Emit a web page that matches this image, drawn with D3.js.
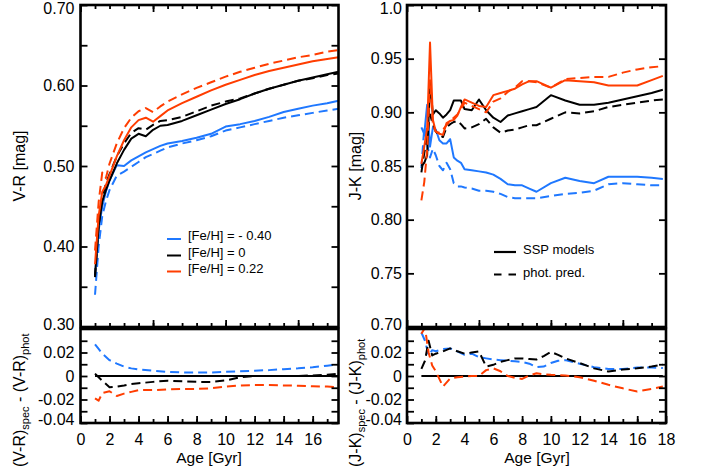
<!DOCTYPE html>
<html><head><meta charset="utf-8">
<script src="https://cdn.jsdelivr.net/npm/d3@7"></script>
<style>
body{margin:0;background:#fff}
svg{display:block}
text{font-family:"Liberation Sans",Arial,Helvetica,sans-serif;fill:#000}
</style>
</head><body>
<svg id="c" width="702" height="468"></svg>
<script>
// ---------------- DATA ----------------
const AGES_VR = [1, 1.25, 1.5, 1.75, 2, 2.5, 3, 3.5, 4, 4.5, 5, 5.5, 6, 7, 8, 9, 10, 11, 12, 13, 14, 15, 16, 17, 17.78];
const VR_BLUE_SSP   = [0.362, 0.420, 0.450, 0.468, 0.482, 0.501, 0.500, 0.507, 0.512, 0.517, 0.521, 0.525, 0.528, 0.531, 0.535, 0.540, 0.549, 0.552, 0.556, 0.561, 0.567, 0.571, 0.575, 0.578, 0.581];
const VR_BLUE_PHOT  = [0.340, 0.400, 0.438, 0.456, 0.470, 0.488, 0.493, 0.499, 0.505, 0.511, 0.515, 0.519, 0.523, 0.528, 0.532, 0.537, 0.544, 0.548, 0.552, 0.556, 0.560, 0.563, 0.566, 0.569, 0.571];
const VR_BLACK_SSP  = [0.364, 0.425, 0.456, 0.470, 0.482, 0.503, 0.520, 0.534, 0.540, 0.537, 0.545, 0.550, 0.551, 0.556, 0.563, 0.570, 0.577, 0.583, 0.590, 0.596, 0.601, 0.606, 0.610, 0.614, 0.617];
const VR_BLACK_PHOT = [0.362, 0.427, 0.461, 0.478, 0.490, 0.512, 0.528, 0.541, 0.547, 0.545, 0.551, 0.556, 0.557, 0.561, 0.568, 0.575, 0.580, 0.584, 0.590, 0.596, 0.601, 0.606, 0.609, 0.613, 0.615];
const VR_RED_SSP    = [0.378, 0.438, 0.468, 0.476, 0.488, 0.512, 0.532, 0.548, 0.557, 0.560, 0.555, 0.562, 0.569, 0.578, 0.586, 0.594, 0.601, 0.607, 0.613, 0.618, 0.622, 0.626, 0.630, 0.633, 0.635];
const VR_RED_PHOT   = [0.395, 0.455, 0.492, 0.485, 0.503, 0.528, 0.547, 0.560, 0.568, 0.572, 0.567, 0.574, 0.580, 0.589, 0.597, 0.604, 0.611, 0.617, 0.622, 0.627, 0.631, 0.635, 0.638, 0.642, 0.644];

const AGES_DVR = [1, 1.25, 1.5, 2, 2.5, 3, 3.5, 4, 5, 6, 7, 8, 9, 10, 11, 12, 13, 14, 15, 16, 17, 17.78];
const DVR_BLUE  = [0.027, 0.023, 0.019, 0.0135, 0.0105, 0.008, 0.0065, 0.0055, 0.0045, 0.0035, 0.003, 0.003, 0.003, 0.0035, 0.004, 0.0045, 0.005, 0.0058, 0.0065, 0.0075, 0.0088, 0.0098];
const DVR_BLACK = [0.002, -0.001, -0.004, -0.0095, -0.009, -0.008, -0.0068, -0.0062, -0.005, -0.004, -0.0045, -0.005, -0.005, -0.0038, -0.001, 0, 0, 0, 0, 0.0005, 0.001, 0.002];
const DVR_RED   = [-0.019, -0.021, -0.0145, -0.013, -0.017, -0.015, -0.0135, -0.012, -0.012, -0.0115, -0.011, -0.011, -0.0105, -0.009, -0.008, -0.0077, -0.0077, -0.008, -0.0083, -0.0087, -0.009, -0.0096];

const AGES_JK = [1, 1.2, 1.4, 1.6, 1.8, 2, 2.25, 2.5, 2.75, 3, 3.25, 3.5, 3.75, 4, 4.5, 5, 5.5, 6, 6.5, 7, 7.5, 8, 8.5, 9, 10, 11, 12, 13, 14, 15, 16, 17, 17.78];
const JK_RED_SSP    = [0.852, 0.868, 0.885, 0.965, 0.893, 0.882, 0.880, 0.879, 0.890, 0.892, 0.893, 0.897, 0.905, 0.912, 0.909, 0.906, 0.905, 0.916, 0.918, 0.920, 0.922, 0.926, 0.929, 0.929, 0.923, 0.930, 0.929, 0.928, 0.925, 0.925, 0.925, 0.930, 0.934];
const JK_RED_PHOT   = [0.818, 0.835, 0.865, 0.930, 0.888, 0.882, 0.881, 0.884, 0.888, 0.892, 0.895, 0.898, 0.903, 0.909, 0.906, 0.903, 0.900, 0.910, 0.913, 0.919, 0.923, 0.929, 0.929, 0.928, 0.923, 0.931, 0.932, 0.933, 0.933, 0.937, 0.940, 0.942, 0.943];
const JK_BLACK_SSP  = [0.850, 0.853, 0.860, 0.929, 0.898, 0.902, 0.899, 0.895, 0.898, 0.902, 0.911, 0.911, 0.911, 0.903, 0.902, 0.912, 0.902, 0.895, 0.891, 0.897, 0.899, 0.901, 0.903, 0.905, 0.916, 0.911, 0.907, 0.907, 0.909, 0.912, 0.915, 0.918, 0.921];
const JK_BLACK_PHOT = [0.844, 0.862, 0.877, 0.898, 0.889, 0.882, 0.879, 0.877, 0.886, 0.889, 0.891, 0.892, 0.889, 0.885, 0.886, 0.889, 0.894, 0.886, 0.881, 0.883, 0.884, 0.886, 0.888, 0.888, 0.894, 0.900, 0.899, 0.901, 0.905, 0.907, 0.909, 0.911, 0.912];
const JK_BLUE_SSP   = [0.886, 0.880, 0.907, 0.868, 0.886, 0.884, 0.874, 0.871, 0.871, 0.875, 0.858, 0.855, 0.853, 0.847, 0.846, 0.845, 0.844, 0.842, 0.838, 0.833, 0.832, 0.832, 0.829, 0.826, 0.834, 0.839, 0.836, 0.834, 0.840, 0.840, 0.840, 0.839, 0.838];
const JK_BLUE_PHOT  = [0.848, 0.886, 0.870, 0.858, 0.866, 0.860, 0.850, 0.846, 0.853, 0.847, 0.834, 0.831, 0.831, 0.830, 0.829, 0.827, 0.827, 0.826, 0.824, 0.821, 0.820, 0.820, 0.820, 0.820, 0.822, 0.824, 0.825, 0.827, 0.833, 0.834, 0.833, 0.832, 0.832];

const AGES_DJK = [1, 1.25, 1.5, 1.75, 2, 2.5, 3, 3.5, 4, 4.5, 5, 5.5, 6, 6.5, 7, 7.5, 8, 8.5, 9, 9.5, 10, 10.5, 11, 12, 13, 14, 15, 16, 17, 17.78];
const DJK_RED   = [0.036, 0.041, 0.020, 0.009, 0.004, -0.009, -0.002, -0.001, -0.0005, 0, 0, 0.005, 0.0065, 0.004, 0, -0.0015, -0.0025, 0.0005, 0.0023, 0.0015, 0.001, 0.0008, 0.0005, -0.001, -0.004, -0.0075, -0.0105, -0.0132, -0.011, -0.009];
const DJK_BLUE  = [0.037, 0.030, 0.0175, 0.022, 0.021, 0.023, 0.0235, 0.021, 0.018, 0.019, 0.016, 0.015, 0.014, 0.0135, 0.013, 0.0125, 0.012, 0.0105, 0.0075, 0.008, 0.011, 0.013, 0.0135, 0.0105, 0.0075, 0.006, 0.006, 0.0072, 0.0072, 0.0068];
const DJK_BLACK = [0.006, 0.013, 0.030, 0.0175, 0.019, 0.021, 0.0235, 0.021, 0.019, 0.020, 0.021, 0.008, 0.0095, 0.012, 0.0135, 0.015, 0.015, 0.0145, 0.014, 0.017, 0.0205, 0.018, 0.015, 0.011, 0.0065, 0.0038, 0.0055, 0.0065, 0.008, 0.0098];

const FEH_LABELS = ["[Fe/H] = - 0.40", "[Fe/H] = 0", "[Fe/H] = 0.22"];
const STYLE_LABELS = ["SSP models", "phot. pred."];

const VR_TICKS = [0.30, 0.40, 0.50, 0.60, 0.70];
const VR_MINOR = [0.35, 0.45, 0.55, 0.65];
const JK_TICKS = [0.70, 0.75, 0.80, 0.85, 0.90, 0.95, 1.0];
const D_TICKS = [-0.04, -0.02, 0, 0.02];
const D_MINOR = [-0.03, -0.01, 0.01, 0.03];
const AGE_TICKS_L = [0, 2, 4, 6, 8, 10, 12, 14, 16];
const AGE_TICKS_R = [0, 2, 4, 6, 8, 10, 12, 14, 16, 18];
const AGE_TOP_MAJOR = [0, 5, 10, 15];
const AGE_MINOR = d3.range(1, 18);

// ---------------- STYLE ----------------
const BLUE = "#1f78ff", BLACK = "#000000", RED = "#ff3d00";
const DASH = "9,5";
const svg = d3.select("#c");

// scales
const xL = d3.scaleLinear().domain([0, 17.78]).range([80.5, 338.5]);
const xR = d3.scaleLinear().domain([0, 18]).range([407, 666]);
const yVR = d3.scaleLinear().domain([0.30, 0.70]).range([327, 5]);
const yJK = d3.scaleLinear().domain([0.70, 1.0]).range([327, 5]);
const yDL = d3.scaleLinear().domain([-0.04, 0.04]).range([423, 329]);
const yDR = d3.scaleLinear().domain([-0.04, 0.04]).range([423, 329]);

let clipId = 0;
function makePanel(x, y) {
  const [x0, x1] = x.range();
  const [y1, y0] = y.range();
  const id = "clip" + (clipId++);
  svg.append("clipPath").attr("id", id).append("rect")
    .attr("x", x0).attr("y", y0).attr("width", x1 - x0).attr("height", y1 - y0);
  const g = svg.append("g").attr("clip-path", `url(#${id})`);
  return {g, x, y, x0, x1, y0, y1};
}

function styleAxis(sel, labelSize) {
  sel.select(".domain").remove();
  sel.selectAll(".tick line").attr("stroke", "#000").attr("stroke-width", 1.8);
  sel.selectAll("text").attr("font-size", labelSize || 16)
    .attr("font-family", '"Liberation Sans",Arial,Helvetica,sans-serif').attr("fill", "#000");
  sel.attr("font-family", null).attr("font-size", null);
}

function axes(p, cfg) {
  const {x, y, x0, x1, y0, y1} = p;
  const b = svg.append("g").attr("transform", `translate(0,${y1})`)
    .call(d3.axisBottom(x).tickValues(cfg.xMajor).tickSize(-7).tickPadding(11)
      .tickFormat(cfg.xLabels ? d3.format("d") : ""));
  styleAxis(b);
  const bm = svg.append("g").attr("transform", `translate(0,${y1})`)
    .call(d3.axisBottom(x).tickValues(cfg.xMinor.filter(v => v <= x.domain()[1])).tickSize(-4).tickFormat(""));
  styleAxis(bm);
  if (cfg.top) {
    const t = svg.append("g").attr("transform", `translate(0,${y0})`)
      .call(d3.axisTop(x).tickValues(cfg.xMajor).tickSize(-7).tickFormat(""));
    styleAxis(t);
    const tm = svg.append("g").attr("transform", `translate(0,${y0})`)
      .call(d3.axisTop(x).tickValues(cfg.xMinor.filter(v => v <= x.domain()[1])).tickSize(-4).tickFormat(""));
    styleAxis(tm);
  }
  const l = svg.append("g").attr("transform", `translate(${x0},0)`)
    .call(d3.axisLeft(y).tickValues(cfg.yMajor).tickSize(-7).tickPadding(cfg.yPad).tickFormat(cfg.yFmt));
  styleAxis(l);
  // nudge the end labels inward, as in the reference
  const [dmin, dmax] = y.domain();
  l.selectAll(".tick").each(function(d) {
    const t = d3.select(this).select("text");
    if (Math.abs(d - dmax) < 1e-9) t.attr("y", cfg.topShift || 0);
    if (Math.abs(d - dmin) < 1e-9) t.attr("y", cfg.botShift || 0);
  });
  const r = svg.append("g").attr("transform", `translate(${x1},0)`)
    .call(d3.axisRight(y).tickValues(cfg.yMajor).tickSize(-7).tickFormat(""));
  styleAxis(r);
  if (cfg.yMinor) {
    const lm = svg.append("g").attr("transform", `translate(${x0},0)`)
      .call(d3.axisLeft(y).tickValues(cfg.yMinor).tickSize(-7).tickFormat(""));
    styleAxis(lm);
    const rm = svg.append("g").attr("transform", `translate(${x1},0)`)
      .call(d3.axisRight(y).tickValues(cfg.yMinor).tickSize(-7).tickFormat(""));
    styleAxis(rm);
  }
  svg.append("rect").attr("x", x0).attr("y", y0).attr("width", x1 - x0).attr("height", y1 - y0)
    .attr("fill", "none").attr("stroke", "#000").attr("stroke-width", 2.6);
}

function series(p, ages, vals, color, dashed) {
  const line = d3.line().x(d => p.x(d[0])).y(d => p.y(d[1]));
  p.g.append("path").datum(ages.map((a, i) => [a, vals[i]]))
    .attr("d", line).attr("fill", "none").attr("stroke", color).attr("stroke-width", 2)
    .attr("stroke-linejoin", "round")
    .attr("stroke-dasharray", dashed ? DASH : null);
}

const fmt2 = d3.format(".2f");
const fmtD = d => d === 0 ? "0" : d3.format(".2f")(d).replace("−", "-");

// ---- top-left V-R ----
const pVR = makePanel(xL, yVR);
series(pVR, AGES_VR, VR_BLUE_SSP, BLUE, false);
series(pVR, AGES_VR, VR_BLUE_PHOT, BLUE, true);
series(pVR, AGES_VR, VR_BLACK_SSP, BLACK, false);
series(pVR, AGES_VR, VR_BLACK_PHOT, BLACK, true);
series(pVR, AGES_VR, VR_RED_SSP, RED, false);
series(pVR, AGES_VR, VR_RED_PHOT, RED, true);
axes(pVR, {xMajor: AGE_TOP_MAJOR, xMinor: AGE_MINOR, xLabels: false, top: true,
  yMajor: VR_TICKS, yMinor: VR_MINOR, yFmt: fmt2, yPad: 6, topShift: 3.5, botShift: -3});

// ---- bottom-left dV-R ----
const pDL = makePanel(xL, yDL);
pDL.g.append("path").datum(AGES_DVR.map(a => [a, 0]))
  .attr("d", d3.line().x(d => xL(d[0])).y(d => yDL(d[1])))
  .attr("stroke", "#000").attr("stroke-width", 2).attr("fill", "none");
series(pDL, AGES_DVR, DVR_BLUE, BLUE, true);
series(pDL, AGES_DVR, DVR_BLACK, BLACK, true);
series(pDL, AGES_DVR, DVR_RED, RED, true);
axes(pDL, {xMajor: AGE_TICKS_L, xMinor: AGE_MINOR, xLabels: true, top: false,
  yMajor: D_TICKS, yMinor: D_MINOR, yFmt: fmtD, yPad: 6, botShift: -3.5});

// ---- top-right J-K ----
const pJK = makePanel(xR, yJK);
series(pJK, AGES_JK, JK_BLUE_SSP, BLUE, false);
series(pJK, AGES_JK, JK_BLUE_PHOT, BLUE, true);
series(pJK, AGES_JK, JK_BLACK_SSP, BLACK, false);
series(pJK, AGES_JK, JK_BLACK_PHOT, BLACK, true);
series(pJK, AGES_JK, JK_RED_SSP, RED, false);
series(pJK, AGES_JK, JK_RED_PHOT, RED, true);
axes(pJK, {xMajor: AGE_TOP_MAJOR, xMinor: AGE_MINOR, xLabels: false, top: true,
  yMajor: JK_TICKS, yMinor: null, yFmt: d => d === 1 ? "1.0" : fmt2(d), yPad: 5, topShift: 3.5, botShift: -3});

// ---- bottom-right dJ-K ----
const pDR = makePanel(xR, yDR);
pDR.g.append("path").datum(AGES_DJK.map(a => [a, 0]))
  .attr("d", d3.line().x(d => xR(d[0])).y(d => yDR(d[1])))
  .attr("stroke", "#000").attr("stroke-width", 2).attr("fill", "none");
series(pDR, AGES_DJK, DJK_BLUE, BLUE, true);
series(pDR, AGES_DJK, DJK_BLACK, BLACK, true);
series(pDR, AGES_DJK, DJK_RED, RED, true);
axes(pDR, {xMajor: AGE_TICKS_R, xMinor: AGE_MINOR, xLabels: true, top: false,
  yMajor: D_TICKS, yMinor: D_MINOR, yFmt: fmtD, yPad: 5, botShift: -3.5});

// ---- axis titles ----
function vtitle(x, y, txt) {
  svg.append("text").attr("transform", `translate(${x},${y}) rotate(-90)`)
    .attr("text-anchor", "middle").attr("font-size", 16).text(txt);
}
vtitle(25, 166, "V-R [mag]");
vtitle(361, 166, "J-K [mag]");

function dtitle(x, y, c) {
  const t = svg.append("text").attr("transform", `translate(${x},${y}) rotate(-90)`)
    .attr("text-anchor", "start").attr("font-size", 16);
  t.append("tspan").text(`(${c})`);
  t.append("tspan").attr("font-size", 11).attr("dy", 4).text("spec");
  t.append("tspan").attr("dy", -4).text(` - (${c})`);
  t.append("tspan").attr("font-size", 11).attr("dy", 4).text("phot");
}
dtitle(25, 467, "V-R");
dtitle(361, 467, "J-K");

svg.append("text").attr("x", 209).attr("y", 463).attr("text-anchor", "middle").attr("font-size", 15.5).text("Age [Gyr]");
svg.append("text").attr("x", 537).attr("y", 463).attr("text-anchor", "middle").attr("font-size", 15.5).text("Age [Gyr]");

// ---- legends ----
const legColors = [BLUE, BLACK, RED];
const legY = [239, 255.5, 271.5];
FEH_LABELS.forEach((lab, i) => {
  svg.append("line").attr("x1", 167).attr("x2", 181).attr("y1", legY[i]).attr("y2", legY[i])
    .attr("stroke", legColors[i]).attr("stroke-width", 2);
  svg.append("text").attr("x", 188).attr("y", legY[i] + 1).attr("font-size", 13).text(lab);
});
const styY = [252, 274.5];
STYLE_LABELS.forEach((lab, i) => {
  svg.append("line").attr("x1", 494).attr("x2", 516).attr("y1", styY[i]).attr("y2", styY[i])
    .attr("stroke", "#000").attr("stroke-width", 2.2)
    .attr("stroke-dasharray", i === 1 ? "7.5,7" : null);
  svg.append("text").attr("x", 523).attr("y", styY[i] + 2).attr("font-size", 13).text(lab);
});
</script>
</body></html>
